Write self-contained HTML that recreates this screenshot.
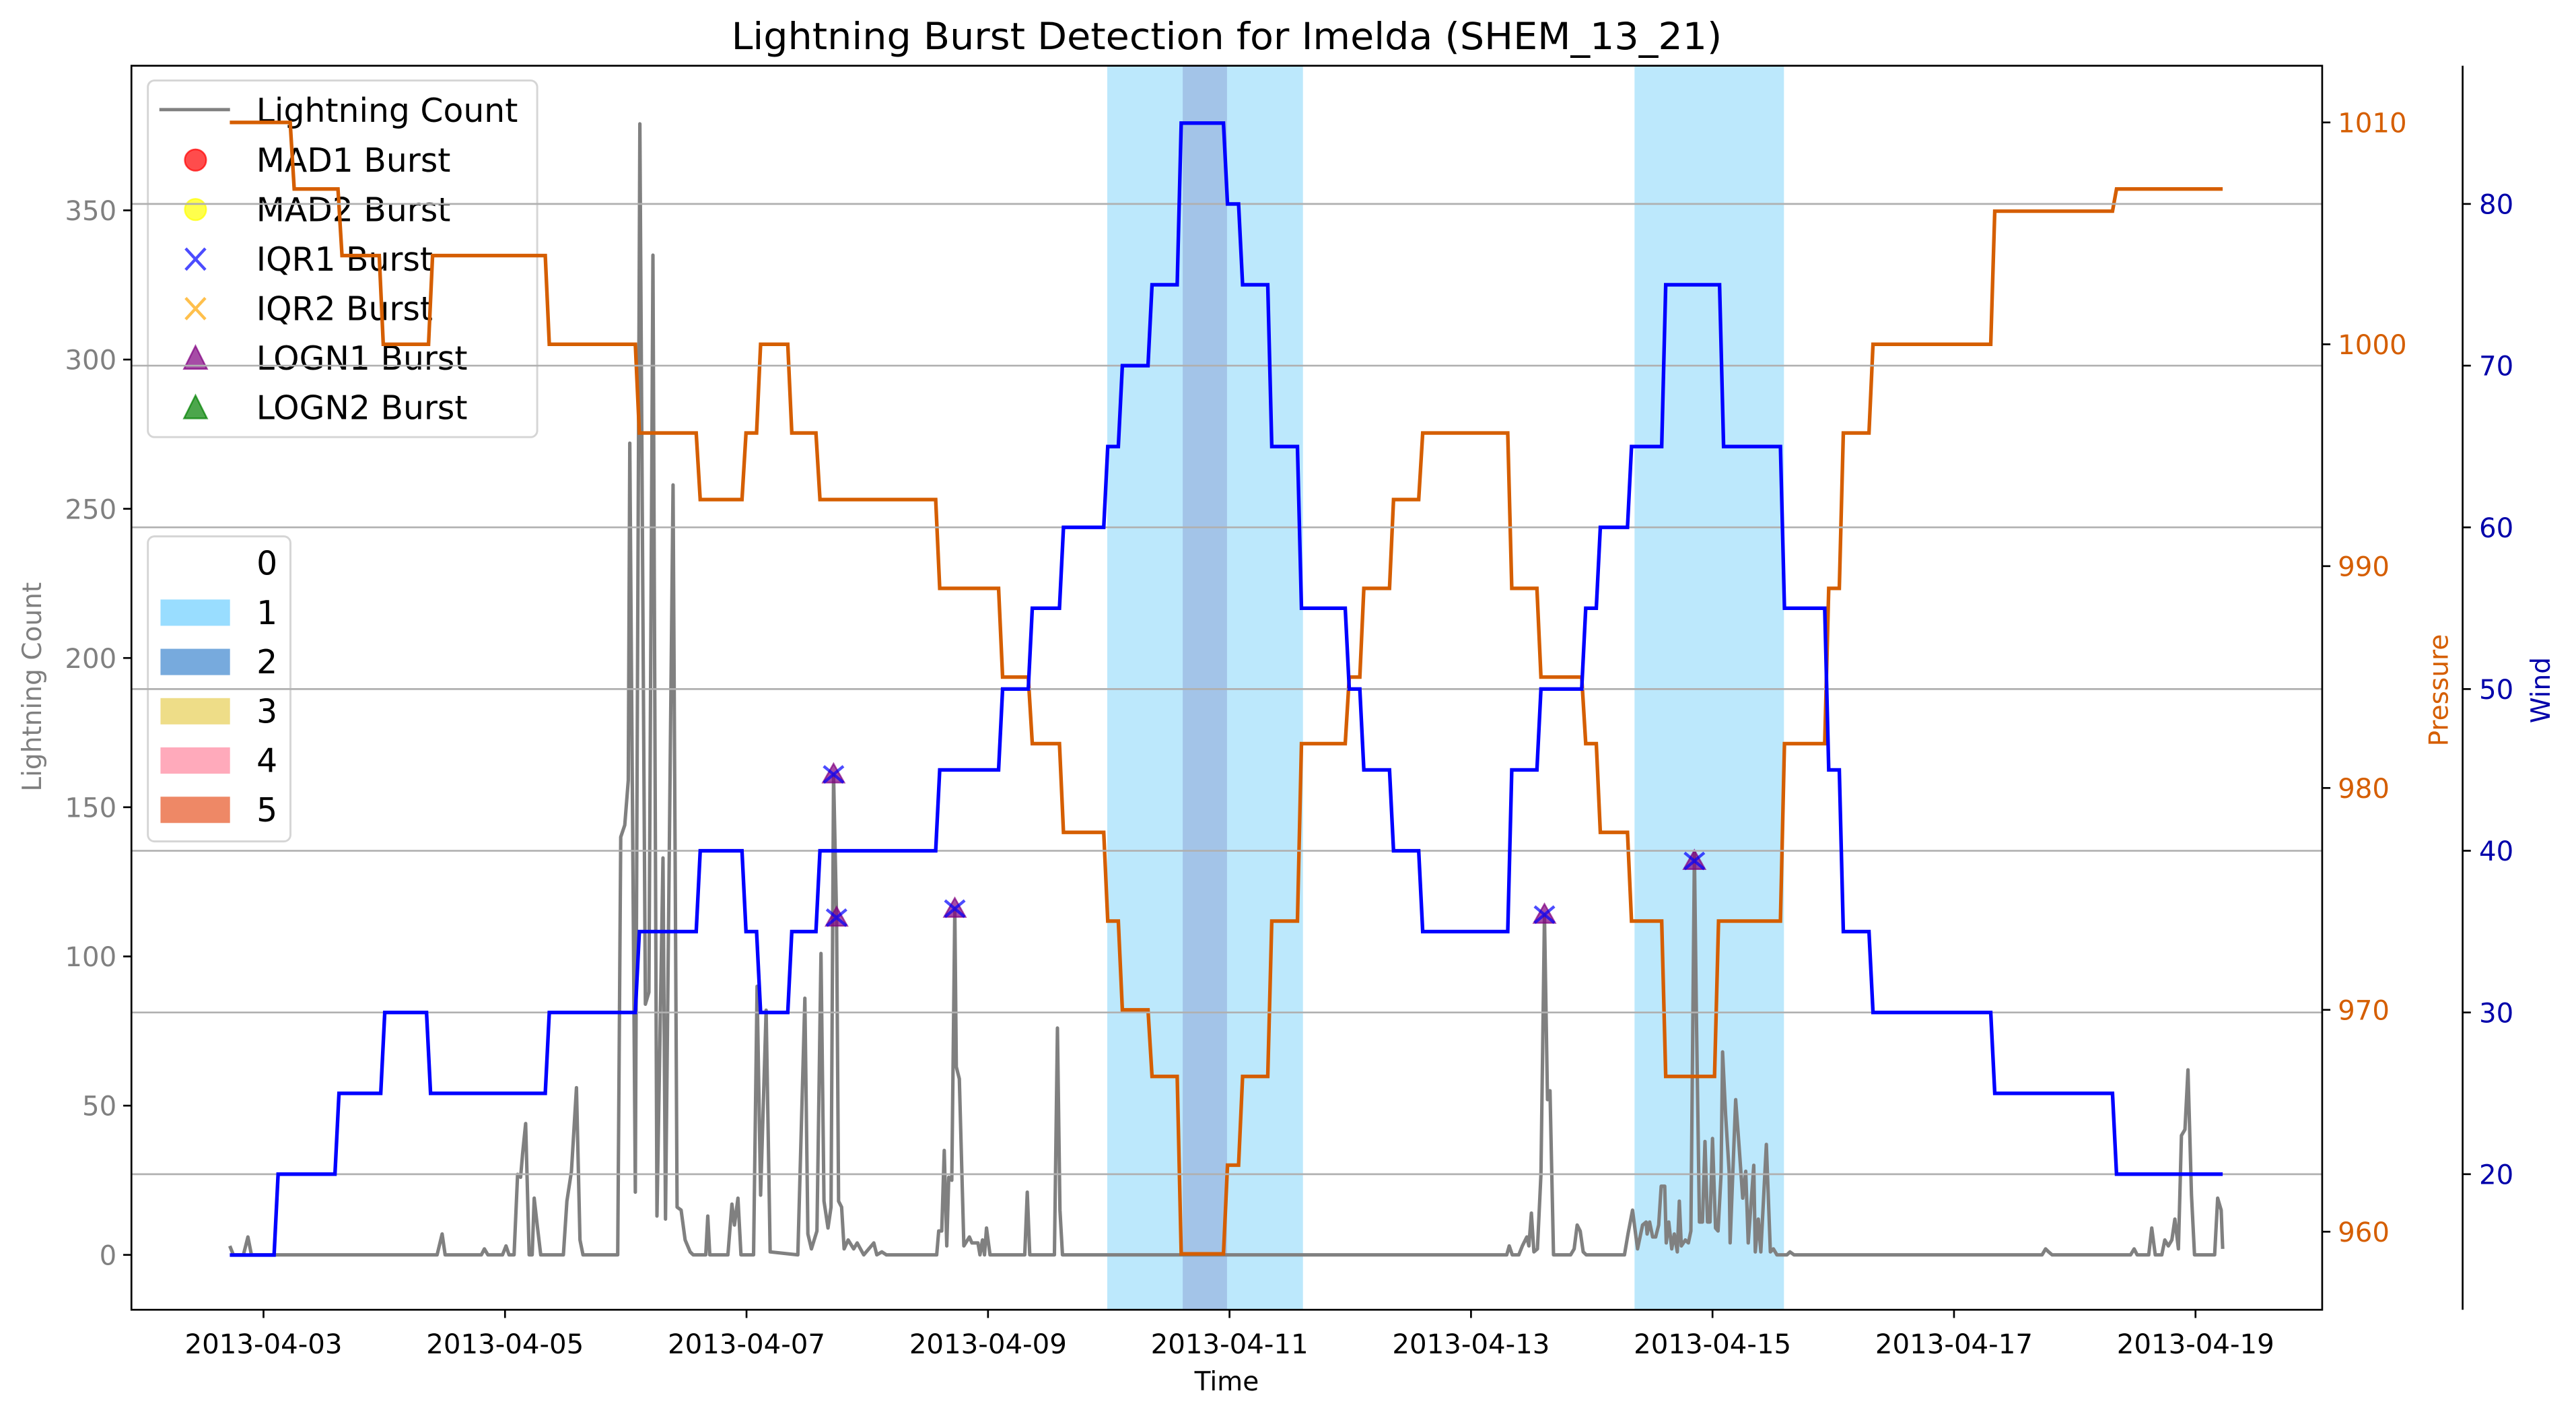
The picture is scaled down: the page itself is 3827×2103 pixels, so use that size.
<!DOCTYPE html>
<html><head><meta charset="utf-8"><style>
html,body{margin:0;padding:0;background:#fff;}
svg{display:block;font-family:"DejaVu Sans","Liberation Sans",sans-serif;}
</style></head><body>
<svg id="chart" xmlns="http://www.w3.org/2000/svg" width="3827" height="2103" viewBox="0 0 1568 861.65" preserveAspectRatio="none">
<defs><clipPath id="clip"><rect x="80" y="40" width="1333.5" height="757"/></clipPath></defs>
<g id="bands" clip-path="url(#clip)"></g>
<g id="lightning" clip-path="url(#clip)"></g>
<g id="markers"></g>
<g id="legends"></g>
<g id="pressure" clip-path="url(#clip)"></g>
<g id="grid"></g>
<g id="wind" clip-path="url(#clip)"></g>
<g id="axes"></g>
<text x="746.7" y="30" text-anchor="middle" font-size="22.5" textLength="603" lengthAdjust="spacingAndGlyphs">Lightning Burst Detection for Imelda (SHEM_13_21)</text>
<text x="746.7" y="846" text-anchor="middle" font-size="16">Time</text>
<text transform="translate(25,418) rotate(-90)" text-anchor="middle" font-size="16" fill="#808080">Lightning Count</text>
<text transform="translate(1490,420) rotate(-90)" text-anchor="middle" font-size="16" fill="#d55e00">Pressure</text>
<text transform="translate(1552,420) rotate(-90)" text-anchor="middle" font-size="16" fill="#0000aa">Wind</text>
</svg>
<script>
// ---- data (hours since 2013-04-03 00:00) ----
const lightTimes=[-6.7,-6.0,-4.0,-3.1,-2.4,34.5,35.5,36.1,43.3,43.9,44.6,47.5,48.2,48.8,49.8,50.5,51.1,51.5,52.1,52.8,53.4,53.8,54.4,55.1,59.6,60.3,61.2,62.2,62.9,63.5,70.4,71.0,71.8,72.5,72.8,73.9,74.8,75.9,76.6,77.4,78.2,79.4,79.9,81.4,82.2,83.0,83.8,84.8,85.4,87.9,88.3,88.7,92.3,93.1,93.6,94.3,94.9,97.4,98.1,98.8,99.9,100.7,106.2,107.6,108.2,108.9,110.0,110.8,111.4,112.2,112.8,113.3,113.9,114.3,114.9,115.4,116.2,117.3,118.0,119.3,121.3,121.9,122.9,123.8,133.8,134.2,134.8,135.3,135.8,136.2,136.8,137.4,137.7,138.3,139.2,140.3,140.8,142.0,142.4,142.9,143.3,143.7,144.4,151.3,151.8,152.3,157.2,157.8,158.3,158.8,247.1,247.6,248.2,249.5,250.2,251.1,251.5,252.0,252.5,253.2,253.9,254.6,255.2,255.7,256.4,259.8,260.5,261.1,261.7,262.3,262.9,270.5,271.2,272.1,273.1,274.1,274.8,275.0,275.5,276.1,276.7,277.3,277.8,278.5,278.8,279.3,279.9,280.4,281.0,281.4,281.8,282.6,283.2,283.7,284.4,284.8,285.4,286.0,286.5,287.0,287.5,288.0,288.6,289.1,289.7,290.0,290.6,291.3,291.5,292.6,293.3,294.0,294.6,295.1,296.2,296.5,297.1,297.6,298.7,299.5,300.1,300.8,302.8,303.4,304.2,353.5,354.2,354.8,355.5,371.1,371.8,372.4,374.7,375.3,376.0,377.3,377.9,378.6,379.3,379.9,380.6,381.2,381.9,382.5,383.2,383.8,387.8,388.4,389.1,389.4];
const lightCounts=[3,0,0,6,0,0,7,0,0,2,0,0,3,0,0,27,26,34,44,0,0,19,10,0,0,18,28,56,5,0,0,140,144,159,272,21,379,84,88,335,13,133,12,258,16,15,5,1,0,0,13,0,0,17,10,19,0,0,90,20,82,1,0,86,7,2,8,101,18,9,16,161,113,18,16,2,5,2,4,0,4,0,1,0,0,8,8,35,3,26,25,116,63,59,3,6,4,4,0,5,0,9,0,0,21,0,0,76,15,0,0,3,0,0,3,6,3,14,1,2,27,114,52,55,0,0,2,10,8,1,0,0,7,15,2,10,11,7,11,6,6,10,23,23,4,11,2,7,1,18,3,5,4,8,135,80,11,11,38,11,11,39,9,8,27,68,47,28,4,52,36,19,28,4,30,1,12,1,37,1,2,0,0,1,0,0,2,1,0,0,2,0,0,9,0,0,5,3,5,12,2,40,42,62,20,0,0,19,15,2];
const burstTimes=[113.3,113.9,137.4,254.6,284.4];
const burstCounts=[161,113,116,114,132];
const pressTimes=[-6.7,5.7,15.2,23.4,33.2,56.4,74.3,86.4,95.5,98.4,104.6,110.2,134.0,146.5,152.4,158.6,167.4,170.3,176.2,182.0,191.2,194.2,200.0,205.9,215.4,218.3,224.2,230.0,247.7,253.5,262.4,265.3,271.5,278.3,288.8,301.9,310.7,313.6,319.5,343.7,367.9];
const pressVals=[1010,1007,1004,1000,1004,1000,996,993,996,1000,996,993,989,985,982,978,974,970,967,959,963,967,974,982,985,989,993,996,989,985,982,978,974,967,974,982,989,996,1000,1006,1007];
const windTimes=[-6.7,2.5,14.6,23.7,32.8,56.4,74.3,86.4,95.5,98.4,104.6,110.2,134.0,146.5,152.4,158.6,167.4,170.3,176.2,182.0,191.2,194.2,200.0,205.9,215.4,218.3,224.2,230.0,247.7,253.5,262.4,265.3,271.5,278.3,289.8,301.9,310.7,313.6,319.5,343.7,367.9];
const windVals=[15,20,25,30,25,30,35,40,35,30,35,40,45,50,55,60,65,70,75,85,80,75,65,55,50,45,40,35,45,50,55,60,65,75,65,55,45,35,30,25,20];
const seriesEnd=389.4;
const bandStarts=[167.7,272.5,182.7];
const bandEnds=[206.6,302.2,191.5];
const bandCats=[1,1,2];
const xTickDays=[0,2,4,6,8,10,12,14,16];
const xTickLabels=["2013-04-03","2013-04-05","2013-04-07","2013-04-09","2013-04-11","2013-04-13","2013-04-15","2013-04-17","2013-04-19"];
const countTicks=[0,50,100,150,200,250,300,350];
const pressTicks=[960,970,980,990,1000,1010];
const windTicks=[20,30,40,50,60,70,80];
const catLabels=["0","1","2","3","4","5"];

// ---- scales ----
const xs=h=>160.4+3.0625*h;
const yc=c=>763.6-1.816*c;
const yp=p=>749.5-13.5*(p-960);
const yw=w=>714.5-9.84*(w-20);
const NS="http://www.w3.org/2000/svg";
function mk(tag,parent,attrs){const e=document.createElementNS(NS,tag);for(const k in attrs)e.setAttribute(k,attrs[k]);parent.appendChild(e);return e;}
const G=id=>document.getElementById(id);
const catColors=["none","#99ddff","#77aadd","#eedd88","#ffaabb","#ee8866"];
const bandFill={1:"#bce8fc",2:"#a3c4e8"};

for(let i=0;i<bandStarts.length;i++){
  const r=mk('rect',G('bands'),{x:xs(bandStarts[i]),y:40,width:xs(bandEnds[i])-xs(bandStarts[i]),height:757,fill:bandFill[bandCats[i]]});
  
  
}
{
  let d='';
  for(let i=0;i<lightTimes.length;i++){d+=(i?'L':'M')+xs(lightTimes[i]).toFixed(2)+','+yc(lightCounts[i]).toFixed(2);}
  const p=mk('path',G('lightning'),{d:d,fill:'none',stroke:'#808080','stroke-width':2.1,'stroke-linejoin':'round'});
  
  
}
for(let i=0;i<burstTimes.length;i++){
  const x=xs(burstTimes[i]),y=yc(burstCounts[i]);
  const t=mk('path',G('markers'),{d:`M${x},${y-6.5}L${x+6.5},${y+5}L${x-6.5},${y+5}Z`,fill:'rgba(128,0,128,0.7)',stroke:'rgba(128,0,128,0.7)','stroke-width':1});
  
  
  const c=mk('path',G('markers'),{d:`M${x-6},${y-5}L${x+6},${y+5}M${x+6},${y-5}L${x-6},${y+5}`,stroke:'rgba(0,0,255,0.7)','stroke-width':1.8,fill:'none'});
  
  
}
function stepPath(ts,vs,sc){
  let d='M'+xs(ts[0])+','+sc(vs[0]);
  for(let i=1;i<ts.length;i++){d+='L'+xs(ts[i]-0.4)+','+sc(vs[i-1])+'L'+xs(ts[i]+0.4)+','+sc(vs[i]);}
  d+='L'+xs(seriesEnd)+','+sc(vs[vs.length-1]);return d;
}
{
  const L=G('legends');
  const box=mk('rect',L,{x:90,y:49,width:237,height:217,rx:4,fill:'rgba(255,255,255,0.8)',stroke:'#d5d5d5','stroke-width':1.2});
  
  
  const names=["Lightning Count","MAD1 Burst","MAD2 Burst","IQR1 Burst","IQR2 Burst","LOGN1 Burst","LOGN2 Burst"];
  const rows=[67.7,97.9,128,158.2,188.3,218.5,248.6];
  for(let i=0;i<names.length;i++){
    const y=rows[i],cx=119;
    let m;
    if(i==0)m=mk('line',L,{x1:97,x2:140,y1:y-1,y2:y-1,stroke:'#808080','stroke-width':2});
    else if(i<3)m=mk('circle',L,{cx:cx,cy:y-0.5,r:6.5,fill:i==1?'rgba(255,0,0,0.7)':'rgba(255,255,0,0.7)',stroke:i==1?'rgba(255,0,0,0.7)':'rgba(255,255,0,0.7)'});
    else if(i<5)m=mk('path',L,{d:`M${cx-6},${y-7}L${cx+6},${y+6}M${cx+6},${y-7}L${cx-6},${y+6}`,stroke:i==3?'rgba(0,0,255,0.7)':'rgba(255,165,0,0.7)','stroke-width':1.8});
    else m=mk('path',L,{d:`M${cx},${y-8}L${cx+7},${y+6}L${cx-7},${y+6}Z`,fill:i==5?'rgba(128,0,128,0.7)':'rgba(0,128,0,0.7)',stroke:i==5?'rgba(128,0,128,0.7)':'rgba(0,128,0,0.7)'});
    
    
    const t=mk('text',L,{x:156,y:y+6.5,'font-size':20});
    t.textContent=names[i];
    
    
  }
  const box2=mk('rect',L,{x:90,y:326.4,width:86.8,height:185.6,rx:4,fill:'rgba(255,255,255,0.8)',stroke:'#d5d5d5','stroke-width':1.2});
  
  
  for(let i=0;i<catLabels.length;i++){
    const y=342.8+30*i;
    if(i>0){const r=mk('rect',L,{x:97.7,y:y-8,width:42.3,height:16,fill:catColors[i]});
      
      }
    const t=mk('text',L,{x:162.5,y:y+7,'font-size':20,'text-anchor':'middle'});
    t.textContent=catLabels[i];
    
    
  }
}
{
  const p=mk('path',G('pressure'),{d:stepPath(pressTimes,pressVals,yp),fill:'none',stroke:'#d55e00','stroke-width':2.2});
  
  
}
for(const w of windTicks){
  const l=mk('line',G('grid'),{x1:80,x2:1413.5,y1:yw(w),y2:yw(w),stroke:'#b0b0b0','stroke-width':1.1});
  
  
}
{
  const p=mk('path',G('wind'),{d:stepPath(windTimes,windVals,yw),fill:'none',stroke:'#0000ff','stroke-width':2.2});
  
  
}
{
  const A=G('axes');
  const f=mk('rect',A,{x:80,y:40,width:1333.5,height:757,fill:'none',stroke:'#000','stroke-width':1.1});
  
  
  const ws=mk('line',A,{x1:1499,x2:1499,y1:40,y2:797,stroke:'#000','stroke-width':1.1});
  
  
  for(let i=0;i<xTickDays.length;i++){
    const x=xs(xTickDays[i]*24);
    const t=mk('line',A,{x1:x,x2:x,y1:797,y2:802,stroke:'#000','stroke-width':1.1});
    
    
    const l=mk('text',A,{x:x,y:823.5,'font-size':16.5,'text-anchor':'middle'});
    l.textContent=xTickLabels[i];
    
    
  }
  for(const c of countTicks){
    const y=yc(c);
    const t=mk('line',A,{x1:75,x2:80,y1:y,y2:y,stroke:'#000','stroke-width':1.1});
    
    
    const l=mk('text',A,{x:71,y:y+6,'font-size':16.5,'text-anchor':'end',fill:'#808080'});
    l.textContent=c;
    
    
  }
  for(const p of pressTicks){
    const y=yp(p);
    const t=mk('line',A,{x1:1413.5,x2:1418.5,y1:y,y2:y,stroke:'#000','stroke-width':1.1});
    
    
    const l=mk('text',A,{x:1423,y:y+6,'font-size':16.5,fill:'#d55e00'});
    l.textContent=p;
    
    
  }
  for(const w of windTicks){
    const y=yw(w);
    const t=mk('line',A,{x1:1499,x2:1504,y1:y,y2:y,stroke:'#000','stroke-width':1.1});
    
    
    const l=mk('text',A,{x:1509,y:y+6,'font-size':16.5,fill:'#0000aa'});
    l.textContent=w;
    
    
  }
}
</script>
</body></html>
